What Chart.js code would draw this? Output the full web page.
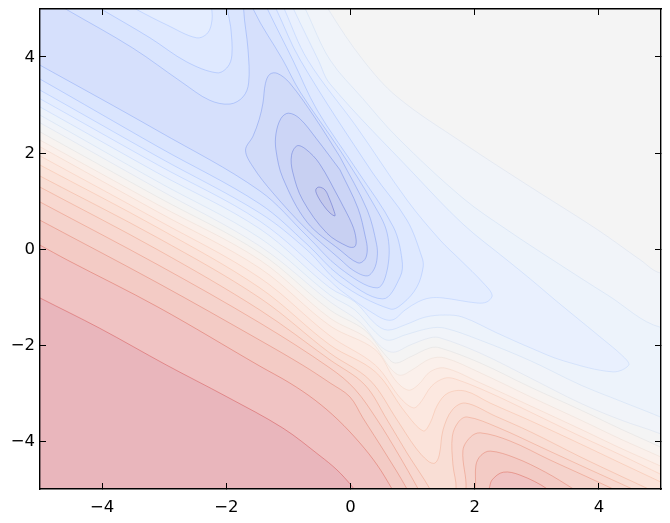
<!DOCTYPE html>
<html>
<head>
<meta charset="utf-8">
<script src="https://cdn.jsdelivr.net/npm/chart.js@4/dist/chart.umd.js"></script>
<style>
  html, body { margin: 0; padding: 0; background: #fff; }
  canvas { display: block; }
</style>
</head>
<body>
<canvas id="contourChart" width="670" height="523"></canvas>
<script>
// tick labels
const xTicks = [-4, -2, 0, 2, 4];
const yTicks = [-4, -2, 0, 2, 4];

// contour lines, [x, y]. Points past +-5 just carry the line out of the axes
const warm11 = [[-5.4,-0.75],[-5,-1.02],[-4.04,-1.65],[-2.96,-2.42],[-1.99,-3.08],[-1.09,-3.73],[-0.49,-4.31],[-0.22,-4.6],[0.01,-4.92],[0.25,-5.3]];
const warm10 = [[-5.4,0.36],[-5,0.08],[-4.56,-0.23],[-3.1,-1.21],[-1.46,-2.44],[-0.98,-2.79],[-0.57,-3.15],[-0.2,-3.56],[0.15,-4.04],[0.43,-4.5],[0.67,-5],[0.85,-5.4],[2.1,-5.4],[2.23,-5],[2.28,-4.81],[2.46,-4.65],[2.73,-4.71],[3.17,-5],[3.4,-5.3]];
const warm9 = [[-5.4,0.88],[-5,0.6],[-3.1,-0.71],[-1.46,-1.9],[-0.77,-2.42],[-0.33,-2.79],[-0.01,-3.08],[0.2,-3.52],[0.56,-4.25],[0.91,-5],[1.05,-5.4],[1.95,-5.4],[2.01,-5],[2.02,-4.5],[2.1,-4.3],[2.25,-4.21],[2.65,-4.35],[3.14,-4.65],[3.59,-5],[3.95,-5.3]];
const warm8 = [[-5.4,1.26],[-5,0.98],[-3.1,-0.33],[-1.46,-1.54],[-0.33,-2.48],[0.07,-2.92],[0.43,-3.56],[0.75,-4.23],[1.09,-5],[1.25,-5.4],[1.75,-5.4],[1.86,-5],[1.81,-4.2],[1.93,-3.92],[2.09,-3.83],[2.57,-4],[3.22,-4.4],[3.78,-4.73],[4.23,-5],[4.65,-5.25]];
const warm7 = [[-5.4,1.57],[-5,1.29],[-3.1,-0.02],[-1.46,-1.27],[-0.33,-2.31],[0.23,-2.83],[0.59,-3.56],[0.91,-4.25],[1.28,-5],[1.42,-5.4],[1.6,-5.4],[1.7,-5],[1.65,-4.5],[1.64,-3.9],[1.74,-3.6],[1.88,-3.5],[2.36,-3.71],[3.17,-4.19],[3.86,-4.6],[4.54,-5],[4.95,-5.25]];
const warm6 = [[-5.4,1.8],[-5,1.52],[-3.1,0.23],[-1.46,-1.02],[-0.33,-2.17],[0.31,-2.73],[0.75,-3.56],[1.04,-4.125],[1.25,-4.42],[1.36,-4.46],[1.43,-4.29],[1.49,-3.77],[1.64,-3.35],[1.85,-3.21],[2.33,-3.48],[2.9,-3.81],[3.7,-4.33],[4.35,-4.73],[4.8,-5],[5.2,-5.25]];
const warm5 = [[-5.4,2.03],[-5,1.75],[-3.1,0.44],[-1.46,-0.81],[-0.33,-2],[0.4,-2.56],[0.88,-3.4],[1.17,-3.79],[1.28,-3.63],[1.4,-3.25],[1.57,-3],[1.85,-2.96],[2.25,-3.21],[2.9,-3.58],[3.7,-4.06],[4.35,-4.46],[4.99,-4.85],[5.4,-5.1]];
const warm4 = [[-5.4,2.22],[-5,1.94],[-3.1,0.6],[-1.46,-0.6],[-0.33,-1.81],[0.4,-2.42],[0.8,-3.1],[1.01,-3.31],[1.12,-3.21],[1.31,-2.85],[1.52,-2.69],[1.69,-2.71],[2.25,-3],[2.9,-3.4],[3.7,-3.9],[4.35,-4.29],[4.99,-4.69],[5.4,-4.94]];
const warm3 = [[-5.4,2.41],[-5,2.13],[-3.1,0.77],[-1.46,-0.4],[-0.33,-1.6],[0.4,-2.1],[0.72,-2.73],[0.93,-2.94],[1.09,-2.83],[1.28,-2.56],[1.52,-2.48],[2.09,-2.79],[2.9,-3.27],[3.7,-3.75],[4.35,-4.15],[4.99,-4.52],[5.4,-4.77]];
const warm2 = [[-5.4,2.55],[-5,2.27],[-3.1,0.92],[-1.46,-0.23],[-0.33,-1.44],[0.31,-1.9],[0.64,-2.48],[0.8,-2.63],[0.99,-2.52],[1.28,-2.29],[1.52,-2.27],[2.09,-2.58],[2.9,-3.08],[3.7,-3.56],[4.35,-3.96],[4.99,-4.33],[5.4,-4.58]];
const warm1 = [[-5.4,2.72],[-5,2.44],[-3.1,1.08],[-1.46,-0.08],[-0.33,-1.27],[0.23,-1.69],[0.56,-2.21],[0.72,-2.375],[0.96,-2.25],[1.28,-2.06],[1.44,-2.06],[2.09,-2.375],[2.9,-2.88],[3.7,-3.35],[4.35,-3.75],[4.99,-4.125],[5.4,-4.38]];

const cool11 = [[-5.4,2.91],[-5,2.63],[-3.1,1.25],[-1.46,0.06],[-0.33,-1.1],[0.15,-1.52],[0.48,-2.02],[0.69,-2.15],[0.96,-2],[1.28,-1.85],[1.44,-1.85],[2.09,-2.17],[2.9,-2.69],[3.7,-3.21],[4.35,-3.56],[4.99,-3.85],[5.4,-4.1],[5.6,-0.5],[4.99,-0.5],[4.67,-0.23],[3.98,0.4],[2.9,1.29],[1.81,2.21],[0.75,3.17],[0.2,3.94],[-0.35,4.98],[-0.5,5.4],[-5.6,5.6]];
const cool10 = [[-5.4,3.07],[-5,2.79],[-3.1,1.4],[-1.46,0.23],[-0.33,-0.96],[0.07,-1.27],[0.4,-1.73],[0.6,-1.9],[0.88,-1.79],[1.28,-1.65],[1.52,-1.65],[2.09,-1.9],[2.9,-2.33],[3.7,-2.83],[4.35,-3.17],[4.99,-3.5],[5.4,-3.75],[5.5,-1.4],[4.99,-1.63],[4.14,-0.96],[3.33,-0.29],[2.52,0.4],[1.81,1.06],[0.75,2.33],[0.2,3.13],[-0.33,3.94],[-0.72,4.98],[-0.88,5.4],[-5.6,5.6]];
const cool9 = [[-5.4,3.24],[-5,2.96],[-3.1,1.58],[-1.46,0.42],[-0.33,-0.81],[0.07,-1.1],[0.4,-1.56],[0.6,-1.69],[0.88,-1.58],[1.2,-1.42],[1.52,-1.375],[1.81,-1.42],[2.36,-1.75],[2.9,-2.06],[3.43,-2.33],[4.23,-2.56],[4.48,-2.42],[4.4,-2.25],[3.98,-1.79],[3.33,-1.1],[2.9,-0.63],[2.52,-0.23],[1.81,0.52],[1.01,1.58],[-0.33,3.44],[-0.52,3.94],[-0.91,4.98],[-1.05,5.4],[-5.6,5.6]];
const cool8 = [[-5.4,3.41],[-5,3.13],[-3.1,1.75],[-1.46,0.58],[-0.33,-0.66],[-0.17,-0.85],[0.44,-1.4],[0.67,-1.48],[0.88,-1.27],[1.09,-1.1],[1.28,-1.02],[1.49,-1.02],[2.04,-1.125],[2.2,-1.1],[2.28,-0.96],[2.14,-0.71],[1.77,-0.23],[1.44,0.19],[0.91,1.02],[0.1,2.54],[-0.69,3.94],[-1.06,4.98],[-1.2,5.4],[-5.6,5.6]];
const cool7 = [[-5.4,3.59],[-5,3.31],[-3.1,1.92],[-1.46,0.75],[-0.7,-0.02],[-0.17,-0.71],[0.64,-1.25],[0.85,-1.125],[1.07,-0.79],[1.17,-0.375],[1.15,-0.17],[0.91,0.6],[0.36,1.58],[-0.81,3.94],[-1.19,4.98],[-1.35,5.4],[-2.2,5.4],[-2.23,4.77],[-2.3,4.5],[-2.48,4.4],[-2.96,4.67],[-3.43,4.98],[-3.72,5.2],[-5.6,5.6]];
const cool6 = [[-5.4,3.82],[-5,3.54],[-3.1,2.13],[-1.46,0.94],[-0.7,0.1],[-0.17,-0.56],[0.52,-1.04],[0.8,-0.58],[0.83,-0.23],[0.69,0.46],[0.1,1.65],[-0.54,2.9],[-0.93,3.94],[-1.33,4.98],[-1.47,5.4],[-2,5.4],[-1.98,4.98],[-1.93,4.63],[-1.91,4.04],[-1.98,3.79],[-2.15,3.67],[-2.64,3.9],[-3.23,4.4],[-3.99,4.98],[-4.28,5.2],[-5.6,5.6]];
const cool5 = [[-5.4,4.11],[-5,3.83],[-3.1,2.46],[-1.46,1.21],[-0.7,0.27],[-0.17,-0.4],[0.43,-0.81],[0.6,-0.375],[0.59,0.33],[0.36,0.96],[-0.17,2.06],[-0.81,3.27],[-1.09,3.94],[-1.56,4.98],[-1.62,5.4],[-1.7,5.4],[-1.72,4.98],[-1.65,4.15],[-1.64,3.46],[-1.73,3.17],[-1.94,3.02],[-2.27,3.1],[-2.7,3.46],[-3.51,4.19],[-4.56,4.98],[-4.85,5.2],[-5.6,5.6]];
// closed lines start halfway along a straight side so the join does not show
const cool4 = [[-0.17,1.92],[0.27,0.81],[0.42,0.1],[0.43,-0.17],[0.38,-0.42],[0.27,-0.56],[0.05,-0.45],[-0.17,-0.21],[-0.7,0.4],[-1.25,1.17],[-1.57,1.71],[-1.69,2.06],[-1.57,2.35],[-1.47,2.7],[-1.41,3.04],[-1.37,3.45],[-1.3,3.64],[-1.18,3.66],[-0.98,3.46],[-0.57,2.73],[-0.17,1.92]];
const cool3 = [[-0.17,1.65],[0.12,0.85],[0.24,0.25],[0.27,-0.02],[0.23,-0.22],[0.12,-0.29],[-0.17,-0.02],[-0.7,0.56],[-1.09,1.48],[-1.2,2.06],[-1.2,2.4],[-1.12,2.72],[-1.0,2.83],[-0.82,2.72],[-0.55,2.3],[-0.17,1.65]];
const cool2 = [[-0.17,1.02],[0.03,0.5],[0.09,0.2],[0.07,0.05],[-0.04,0.05],[-0.38,0.33],[-0.77,1.02],[-0.93,1.6],[-0.95,1.95],[-0.86,2.15],[-0.72,2.08],[-0.5,1.78],[-0.17,1.02]];
const cool1 = [[-0.33,1.02],[-0.27,0.81],[-0.25,0.69],[-0.33,0.75],[-0.43,0.9],[-0.52,1.08],[-0.56,1.23],[-0.51,1.29],[-0.41,1.23],[-0.33,1.02]];

// warm lines close around the top right, the plate is the deepest red band under everything
const closeTopRight = [[5.8,-5.8],[5.8,5.8],[-5.8,5.8]];
const plate = [[-6,-6],[6,-6],[6,6],[-6,6]];

// coolwarm, sampled for the 23 bands
const coolwarm = [
  [59,76,192],[73,98,210],[86,116,224],[102,134,236],[117,152,246],[133,168,252],
  [149,183,255],[165,195,255],[180,205,251],[195,214,243],[208,218,235],[218,218,218],
  [232,214,204],[240,205,187],[244,193,169],[244,179,150],[240,163,132],[236,144,114],
  [230,126,98],[222,108,85],[214,80,62],[205,55,55],[180,12,30]
];

function overWhite(rgb, alpha) {
  const c = rgb.map(v => Math.round(255 * (1 - alpha) + v * alpha));
  return `rgb(${c[0]},${c[1]},${c[2]})`;
}

function makeContour(points, band) {
  const rgb = coolwarm[band];
  return {
    data: points.map(p => ({ x: p[0], y: p[1] })),
    showLine: true,
    fill: 'shape',
    backgroundColor: overWhite(rgb, 0.3),
    borderColor: `rgba(${rgb[0]},${rgb[1]},${rgb[2]},0.4)`,
    borderWidth: 1,
    pointRadius: 0,
    tension: 0.35
  };
}

// back to front, each region sits inside the one before it
const warmLines = [warm11, warm10, warm9, warm8, warm7, warm6, warm5, warm4, warm3, warm2, warm1];
const coolLines = [cool11, cool10, cool9, cool8, cool7, cool6, cool5, cool4, cool3, cool2, cool1];

const datasets = [];
datasets.push(makeContour(plate, 22));
warmLines.forEach((line, i) => datasets.push(makeContour(line.concat(closeTopRight), 21 - i)));
coolLines.forEach((line, i) => datasets.push(makeContour(line, 10 - i)));
datasets[0].borderWidth = 0;
// Chart.js paints the first dataset last
datasets.reverse();

function axis(position, values, showLabels, size) {
  const horizontal = position === 'top' || position === 'bottom';
  return {
    type: 'linear',
    position: position,
    min: -5,
    max: 5,
    afterBuildTicks: scale => { scale.ticks = values.map(v => ({ value: v })); },
    afterFit: scale => {
      if (horizontal) scale.height = size; else scale.width = size;
      // tick label overhang would push the plot in
      scale.paddingTop = scale.paddingBottom = scale.paddingLeft = scale.paddingRight = 0;
    },
    grid: { drawOnChartArea: false, drawTicks: true, tickLength: -6, tickWidth: 1, tickColor: '#000', z: 1 },
    border: { display: true, color: '#000', width: 1.4, z: 2 },
    ticks: {
      display: showLabels,
      color: '#000',
      padding: horizontal ? 15 : 11,
      labelOffset: horizontal ? 0 : 1,
      maxRotation: 0,
      autoSkip: false,
      font: { family: '"DejaVu Sans"', size: 16.5 },
      callback: v => String(v).replace('-', '\u2212')
    }
  };
}

new Chart(document.getElementById('contourChart').getContext('2d'), {
  type: 'scatter',
  data: { datasets: datasets },
  options: {
    responsive: false,
    animation: false,
    layout: { padding: { top: 9, right: 9, left: 0, bottom: 0 } },
    plugins: { legend: { display: false }, tooltip: { enabled: false } },
    elements: { line: { capBezierPoints: false } },
    scales: {
      x: axis('bottom', xTicks, true, 34),
      y: axis('left', yTicks, true, 40),
      x2: axis('top', xTicks, false, 0),
      y2: axis('right', yTicks, false, 0)
    }
  }
});
</script>
</body>
</html>
